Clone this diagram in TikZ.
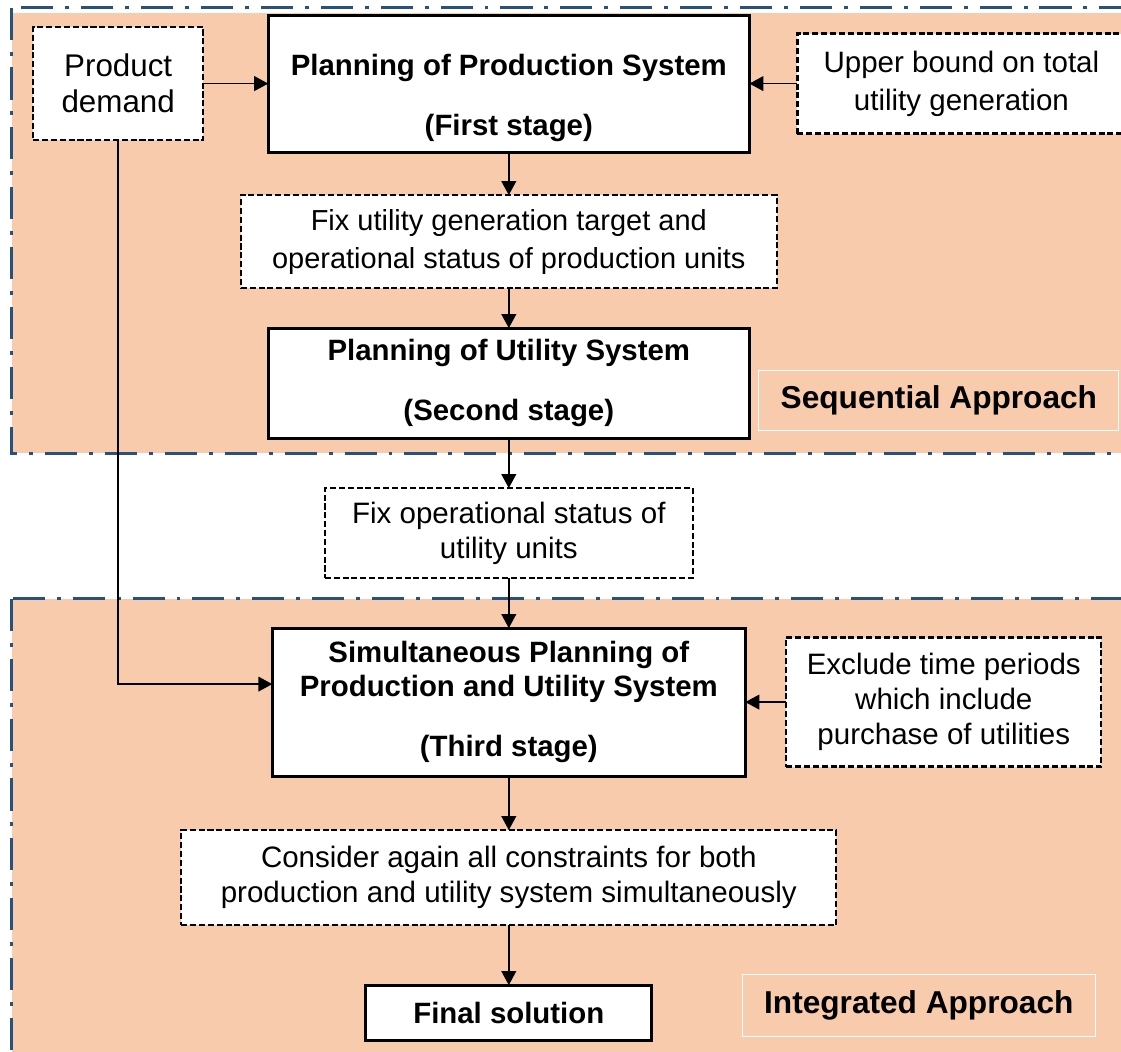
\documentclass[tikz,border=0pt]{standalone}
\usepackage{fontspec}
\setmainfont{Liberation Sans}
\usepackage{tikz}
\usetikzlibrary{positioning, arrows.meta, calc}
\definecolor{regionfill}{RGB}{248,203,173}
\definecolor{regionline}{RGB}{38,82,125}
\newcommand{\txtfont}{\fontsize{21pt}{25pt}\selectfont}
\newcommand{\stagefont}{\fontsize{20.9pt}{24.2pt}\selectfont\bfseries}
\newcommand{\tagfont}{\fontsize{22.5pt}{27pt}\selectfont\bfseries}
\tikzset{
  stagebox/.style={
    draw, line width=2.1pt, fill=white, outer sep=0pt,
    minimum width=12.03cm, align=center, font=\stagefont
  },
  infobox/.style={
    draw, line width=1.6pt, dash pattern=on 4.3pt off 2pt,
    fill=white, outer sep=0pt, align=center, font=\txtfont
  },
  tagbox/.style={
    draw=white, line width=0.7pt, minimum height=1.5cm,
    font=\tagfont
  },
  flow/.style={-{Triangle[length=3.5mm,width=3.7mm]}, line width=1pt},
  region/.style={fill=regionfill},
  regionedge/.style={
    draw=regionline, line width=2.3pt,
    dash pattern=on 22.8pt off 8.5pt on 2.8pt off 8.5pt
  },
}

\begin{document}
\begin{tikzpicture}
  \clip (0,0) rectangle (28.025,-26.3);

  % shaded areas behind the two approaches
  \fill[region] (0.29,-0.33) rectangle (28.6,-11.33);
  \draw[regionedge] (0.29,-0.19) rectangle (28.6,-11.33);
  \fill[region] (0.29,-14.97) rectangle (28.6,-27.5);
  \draw[regionedge] (0.29,-14.97) rectangle (28.6,-27.5);

  \node[stagebox, minimum height=3.425cm] (prodplan) at (12.72,-2.09) {%
    \rule{0pt}{36pt}Planning of Production System\\[18.5pt]
    (First stage)};
  \node[infobox, left=1.625cm of prodplan, font=\fontsize{22.3pt}{25.6pt}\selectfont,
        minimum width=4.25cm, minimum height=2.825cm] (demand) {Product\\demand};
  \node[infobox, right=1.2cm of prodplan, font=\fontsize{21pt}{27pt}\selectfont,
        minimum width=8.2cm, minimum height=2.5cm] (upbound) {%
    Upper bound on total\\utility generation};

  \node[infobox, below=1.075cm of prodplan, font=\fontsize{20.6pt}{27pt}\selectfont,
        minimum width=13.4cm, minimum height=2.325cm] (fixtarget) {%
    Fix utility generation target and\\
    operational status of production units};

  \node[stagebox, below=1.0cm of fixtarget, minimum height=2.75cm] (utilplan) {%
    Planning of Utility System\\[18.5pt]
    (Second stage)};
  \node[tagbox, right=0.225cm of utilplan, yshift=-0.425cm,
        minimum width=9cm] (seqtag) {Sequential Approach};

  \node[infobox, below=1.25cm of utilplan,
        minimum width=9.2cm, minimum height=2.25cm] (fixstatus) {%
    Fix operational status of\\utility units};

  \node[stagebox, below=1.25cm of fixstatus,
        minimum width=11.825cm, minimum height=3.7cm] (jointplan) {%
    Simultaneous Planning of\\
    Production and Utility System\\[18.5pt]
    (Third stage)};
  \node[infobox, right=1.025cm of jointplan,
        minimum width=7.875cm, minimum height=3.225cm] (exclude) {%
    Exclude time periods\\which include\\purchase of utilities};

  \node[infobox, below=1.35cm of jointplan,
        minimum width=16.375cm, minimum height=2.375cm] (recheck) {%
    Consider again all constraints for both\\
    production and utility system simultaneously};

  \node[stagebox, below=1.5cm of recheck,
        minimum width=7.15cm, minimum height=1.375cm] (final) {Final solution};
  \node[tagbox, right=2.25cm of final, yshift=0.19cm,
        minimum width=8.825cm, minimum height=1.55cm] (inttag) {Integrated Approach};

  \draw[flow] (demand) -- (prodplan);
  \draw[flow] (upbound) -- (prodplan);
  \draw[flow] (prodplan) -- (fixtarget);
  \draw[flow] (fixtarget) -- (utilplan);
  \draw[flow] (utilplan) -- (fixstatus);
  \draw[flow] (fixstatus) -- (jointplan);
  \draw[flow] (demand.south) |- ([yshift=0.45cm]jointplan.west);
  \draw[flow] (exclude) -- (jointplan);
  \draw[flow] (jointplan) -- (recheck);
  \draw[flow] (recheck) -- (final);
\end{tikzpicture}
\end{document}
